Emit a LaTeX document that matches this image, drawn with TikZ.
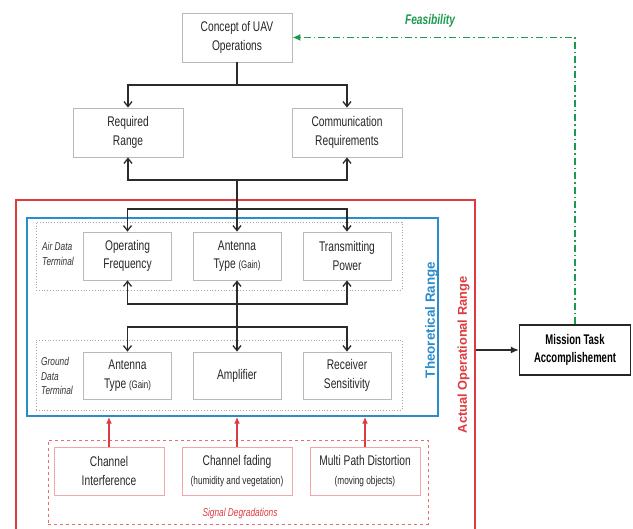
\documentclass[tikz,border=0pt]{standalone}
\usepackage{fontspec}
\setmainfont{Liberation Sans}[FakeStretch=0.73]
\newfontfamily\widefont{Liberation Sans}
\newfontfamily\narrowbold{Liberation Sans}[FakeStretch=0.68]
\usetikzlibrary{arrows.meta}
\definecolor{cred}{HTML}{DD3B3F}
\definecolor{cblue}{HTML}{2A8CCB}
\definecolor{cgreen}{HTML}{1E9A50}
\definecolor{cline}{HTML}{2B2B2B}
\tikzset{
  box/.style={draw=gray!55, line width=0.8pt, align=center, inner sep=1pt,
    minimum width=110pt, minimum height=49pt, font=\fontsize{14}{18.5}\selectfont, text=black!85},
  rowbox/.style={box, minimum width=88pt, minimum height=48pt},
  sigbox/.style={box, draw=cred!45, minimum width=110pt, minimum height=48pt},
  dotbox/.style={draw=gray!70, dotted, line width=0.8pt, inner sep=0pt},
  arr/.style={draw=cline, line width=1.3pt, -{Straight Barb[length=5pt,width=8pt]}},
  darr/.style={draw=cline, line width=1.3pt, {Straight Barb[length=5pt,width=8pt]}-{Straight Barb[length=5pt,width=8pt]}},
  plain/.style={draw=cline, line width=1.3pt},
  rarr/.style={draw=cred, line width=1.5pt, -{Latex[length=7pt,width=6pt]}},
  side/.style={font=\fontsize{11.4}{14.8}\selectfont\itshape, align=left, text=black!80}
}
\begin{document}
\begin{tikzpicture}[x=1pt,y=-1pt]
\useasboundingbox (0,0) rectangle (633,529);
\clip (0,0) rectangle (633,529);
% frames
\node[draw=cred, line width=1.3pt, minimum width=459pt, minimum height=340pt, inner sep=0pt] (red) at (245.5,370) {};
\node[draw=cblue, line width=1.4pt, minimum width=411pt, minimum height=198pt, inner sep=0pt] (blue) at (232.5,317) {};
\node[dotbox, minimum width=366pt, minimum height=68pt] (air) at (219,256) {};
\node[dotbox, minimum width=366pt, minimum height=70pt] (gnd) at (219,375) {};
\node[draw=cred!75, dashed, line width=0.8pt, minimum width=380pt, minimum height=84pt, inner sep=0pt] (sig) at (238,482) {};
% boxes
\node[box] (concept) at (237,37.5) {Concept of UAV\\Operations};
\node[box] (req) at (128,132.5) {Required\\Range};
\node[box] (comm) at (347,132.5) {Communication\\Requirements};
\node[rowbox] (opf) at (127.5,256) {Operating\\Frequency};
\node[rowbox] (ant) at (237,256) {Antenna\\Type {\fontsize{10.8}{12}\selectfont(Gain)}};
\node[rowbox] (tp) at (347,256) {Transmitting\\Power};
\node[rowbox, minimum height=47pt] (gant) at (127.5,375.5) {Antenna\\Type {\fontsize{10.8}{12}\selectfont(Gain)}};
\node[rowbox, minimum height=47pt] (amp) at (237,375.5) {Amplifier};
\node[rowbox, minimum height=47pt] (rs) at (347,375.5) {Receiver\\Sensitivity};
\node[sigbox] (ci) at (109,471) {Channel\\Interference};
\node[sigbox] (cf) at (237,471) {Channel fading\\{\fontsize{11.3}{14}\selectfont(humidity and vegetation)}};
\node[sigbox] (mp) at (365,471) {Multi Path Distortion\\{\fontsize{11.3}{14}\selectfont(moving objects)}};
\node[draw=black!85, line width=1.3pt, minimum width=111pt, minimum height=50pt, align=center,
  font=\narrowbold\fontsize{14}{18}\selectfont\bfseries] (mis) at (575,350) {Mission Task\\Accomplishement};
% labels
\node[side] (airlbl) at (58,254) {Air Data\\Terminal};
\node[side] (gndlbl) at (57,376) {Ground\\Data\\Terminal};
\node[rotate=90, text=cblue, font=\widefont\fontsize{13.4}{15}\selectfont\bfseries] (theo) at (431.5,320) {Theoretical Range};
\node[rotate=90, text=cred, font=\widefont\fontsize{12.8}{14}\selectfont\bfseries] (act) at (463.5,355) {Actual Operational Range};
\node[text=cred, font=\fontsize{11.4}{13}\selectfont\itshape] (siglbl) at (240,514) {Signal Degradations};
\node[text=cgreen, font=\fontsize{14}{16}\selectfont\bfseries\itshape] (feas) at (430,21) {Feasibility};
% connectors
\coordinate (j1) at (237,85);
\coordinate (j2) at (237,180);
\coordinate (j3) at (237,209);
\coordinate (j4) at (237,304);
\coordinate (j5) at (237,327);
\draw[plain] (concept.south) -- (j1);
\draw[arr] (j1) -| (req.north);
\draw[arr] (j1) -| (comm.north);
\draw[arr] (j2) -| (req.south);
\draw[arr] (j2) -| (comm.south);
\draw[arr] (j2) -- (ant.north);
\draw[arr] (j3) -| (opf.north);
\draw[arr] (j3) -| (tp.north);
\draw[arr] (j4) -| (opf.south);
\draw[arr] (j4) -| (tp.south);
\draw[arr] (j5) -| (gant.north);
\draw[arr] (j5) -| (rs.north);
\draw[darr] (ant.south) -- (amp.north);
\draw[rarr] (ci.north) -- (ci.north |- blue.south);
\draw[rarr] (cf.north) -- (cf.north |- blue.south);
\draw[rarr] (mp.north) -- (mp.north |- blue.south);
\draw[draw=cline, line width=1.3pt, -{Latex[length=8pt,width=7pt]}] (red.east |- mis.west) -- (mis.west);
\draw[draw=cgreen, line width=1.3pt, dash pattern=on 7pt off 3pt on 1.5pt off 3pt, -{Latex[length=8pt,width=7pt]}] (mis.north) |- (concept.east);
\end{tikzpicture}
\end{document}
